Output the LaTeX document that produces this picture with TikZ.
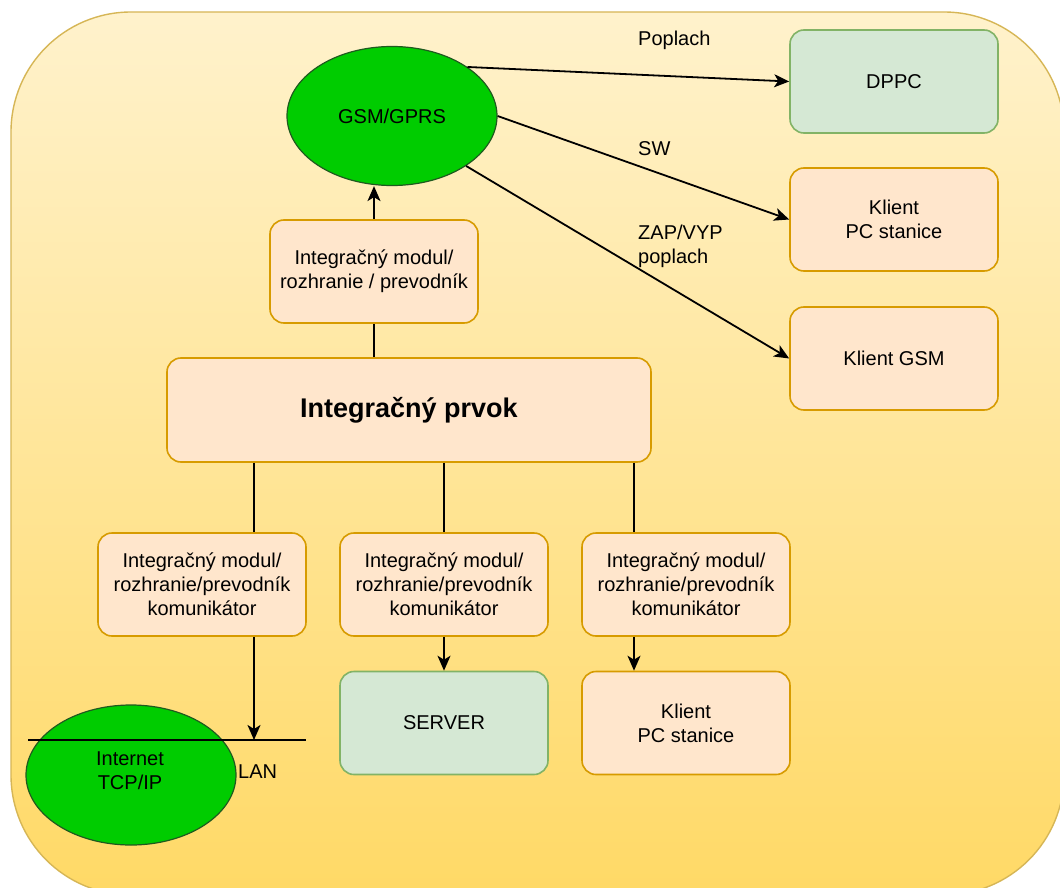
\documentclass[tikz,border=0pt]{standalone}
\usepackage{fontspec}
\setmainfont{Liberation Sans}
\usetikzlibrary{shapes.geometric,arrows.meta}

\definecolor{bgtop}{HTML}{FFF2CC}
\definecolor{bgbot}{HTML}{FFD966}
\definecolor{bgline}{HTML}{D6B656}
\definecolor{orfill}{HTML}{FFE6CC}
\definecolor{orline}{HTML}{D79B00}
\definecolor{grfill}{HTML}{D5E8D4}
\definecolor{grline}{HTML}{82B366}
\definecolor{netfill}{HTML}{00CC00}
\definecolor{netline}{HTML}{1F5A1F}

\tikzset{
  txt/.style={font=\fontsize{20}{24}\selectfont, text=black},
  unit/.style={txt, rectangle, rounded corners=14, draw=orline, fill=orfill,
    line width=1.6, minimum width=208, minimum height=103, align=center, inner sep=2},
  greenunit/.style={unit, draw=grline, fill=grfill},
  net/.style={txt, ellipse, draw=netline, fill=netfill, line width=1.2,
    inner sep=0, align=center},
  link/.style={line width=1.8, draw=black},
  flow/.style={link, -{Stealth[length=15, width=13, inset=4]}},
  tag/.style={txt, inner sep=0, align=left, anchor=west}
}

\begin{document}
\begin{tikzpicture}[x=1pt, y=-1pt]
  \useasboundingbox (0,0) rectangle (1060,888);
  \clip (0,0) rectangle (1060,888);

  % backdrop panel
  \shade[top color=bgtop, bottom color=bgbot] [rounded corners=120]
    (11,12) rectangle (1064,895);
  \draw[bgline, line width=1.4, rounded corners=120] (11,12) rectangle (1064,895);

  % wireless network and its clients
  \node[net, minimum width=210, minimum height=139] (gsm) at (392,116) {GSM/GPRS};
  \node[greenunit] (dppc) at (894,81.5) {DPPC};
  \node[unit] (kpcA) at (894,219.5) {Klient\\PC stanice};
  \node[unit] (kgsm) at (894,358.5) {Klient GSM};

  % integration element and its modules
  \node[unit] (mtop) at (374,271.5) {Integračný modul/\\rozhranie / prevodník};
  \node[unit, minimum width=484, minimum height=104,
        font=\fontsize{27}{32}\selectfont\bfseries] (prvok) at (409,410) {Integračný prvok};
  \node[unit] (m1) at (202,584.5) {Integračný modul/\\rozhranie/prevodník\\komunikátor};
  \node[unit] (m2) at (444,584.5) {Integračný modul/\\rozhranie/prevodník\\komunikátor};
  \node[unit] (m3) at (686,584.5) {Integračný modul/\\rozhranie/prevodník\\komunikátor};
  \node[greenunit] (server) at (444,723) {SERVER};
  \node[unit] (kpcB) at (686,723) {Klient\\PC stanice};

  % internet cloud and LAN bus
  \node[net, minimum width=210, minimum height=140] (inet) at (131,775) {};
  \node[txt, inner sep=0, align=center] (inettxt) at (130,771) {Internet\\TCP/IP};
  \coordinate (lanL) at (28,740);
  \coordinate (lanR) at (306,740);
  \coordinate (lanhit) at (254,740);
  \draw[link] (lanL) -- (lanR);
  \node[txt, inner sep=0, anchor=west] (lan) at (238,772) {LAN};

  % vertical connectors
  \draw[flow] (mtop.north) -- (mtop.north |- gsm.south);
  \draw[link] (prvok.north -| mtop.south) -- (mtop.south);

  \coordinate (p1) at ([xshift=52]m1.north);
  \coordinate (p3) at ([xshift=-52]m3.north);
  \draw[link] (prvok.south -| p1) -- (p1);
  \draw[link] (prvok.south -| m2.north) -- (m2.north);
  \draw[link] (prvok.south -| p3) -- (p3);

  \draw[flow] (m1.south -| lanhit) -- (lanhit);
  \draw[flow] (m2.south) -- (server.north);
  \draw[flow] (m3.south -| p3) -- (kpcB.north -| p3);

  % wireless messages
  \draw[flow] (gsm.33) -- (dppc.west);
  \draw[flow] (gsm.east) -- (kpcA.west);
  \draw[flow] (gsm.-34) -- (kgsm.west);

  \node[tag] (lpoplach) at (638,40) {Poplach};
  \node[tag] (lsw) at (638,149) {SW};
  \node[tag] (lzap) at (638,246) {ZAP/VYP\\poplach};
\end{tikzpicture}
\end{document}
